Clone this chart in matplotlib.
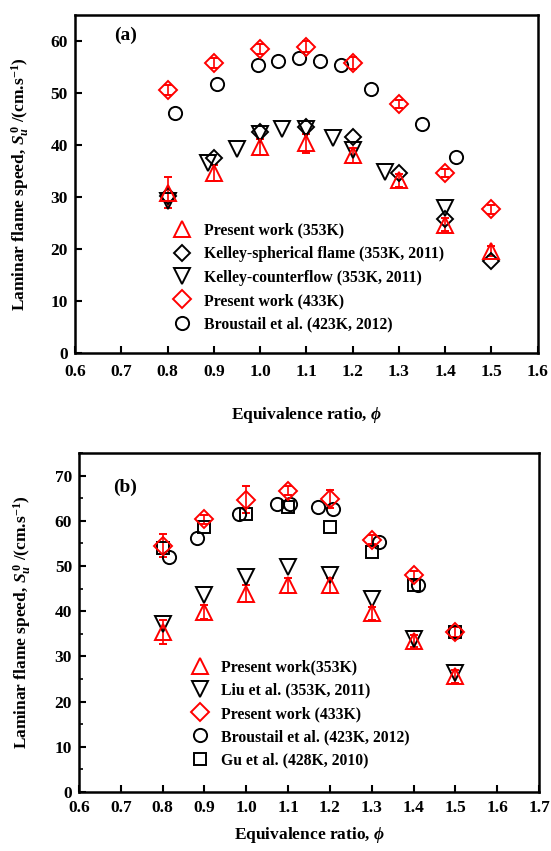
import matplotlib
matplotlib.use("Agg")
import matplotlib.pyplot as plt
from matplotlib.ticker import MultipleLocator

plt.rcParams['font.family'] = ['Liberation Serif', 'DejaVu Serif']
plt.rcParams['font.weight'] = 'bold'
plt.rcParams['mathtext.fontset'] = 'custom'
plt.rcParams['mathtext.rm'] = 'Liberation Serif:bold'
plt.rcParams['mathtext.it'] = 'Liberation Serif:italic:bold'
plt.rcParams['mathtext.bf'] = 'Liberation Serif:bold'

RED = '#ff0000'
BLK = '#000000'

# ---------------- Panel (a) data ----------------
a_pw353_x = [0.8, 0.9, 1.0, 1.1, 1.2, 1.3, 1.4, 1.5]
a_pw353_y = [30.8, 34.6, 39.6, 40.3, 38.0, 33.2, 24.7, 19.6]
a_pw353_e = [3.0, 1.5, 1.6, 1.8, 1.5, 1.3, 1.2, 1.0]

a_ksph_x = [0.8, 0.9, 1.0, 1.1, 1.2, 1.3, 1.4, 1.5]
a_ksph_y = [30.2, 37.5, 42.5, 43.5, 41.5, 34.6, 25.8, 17.7]

a_kcf_x = [0.8, 0.887, 0.95, 1.0, 1.047, 1.1, 1.157, 1.2, 1.27, 1.4]
a_kcf_y = [29.3, 36.5, 39.2, 42.1, 43.0, 43.1, 41.3, 39.0, 34.8, 27.8]

a_pw433_x = [0.8, 0.9, 1.0, 1.1, 1.2, 1.3, 1.4, 1.5]
a_pw433_y = [50.6, 55.8, 58.5, 58.9, 55.8, 47.9, 34.6, 27.6]
a_pw433_e = [1.0, 1.0, 1.0, 1.0, 1.2, 0.8, 0.8, 0.8]

a_brou_x = [0.816, 0.907, 0.995, 1.038, 1.084, 1.13, 1.175, 1.24, 1.35, 1.423]
a_brou_y = [46.2, 51.7, 55.3, 56.2, 56.8, 56.2, 55.3, 50.7, 44.0, 37.7]

# ---------------- Panel (b) data ----------------
b_pw353_x = [0.8, 0.9, 1.0, 1.1, 1.2, 1.3, 1.4, 1.5]
b_pw353_y = [35.4, 39.8, 43.9, 45.7, 45.7, 39.5, 33.4, 25.6]
b_pw353_e = [2.6, 1.5, 1.8, 1.6, 1.6, 1.4, 1.4, 1.4]

b_liu_x = [0.8, 0.9, 1.0, 1.1, 1.2, 1.3, 1.4, 1.5]
b_liu_y = [37.1, 43.5, 47.5, 49.7, 47.9, 42.8, 33.8, 26.3]

b_pw433_x = [0.8, 0.9, 1.0, 1.1, 1.2, 1.3, 1.4, 1.5]
b_pw433_y = [54.5, 60.3, 64.7, 66.7, 64.9, 55.8, 47.9, 35.4]
b_pw433_e = [2.5, 1.0, 3.0, 1.0, 2.0, 1.0, 1.0, 1.0]

b_brou_x = [0.815, 0.882, 0.983, 1.074, 1.105, 1.172, 1.208, 1.318, 1.411, 1.5]
b_brou_y = [51.9, 56.3, 61.6, 63.8, 63.8, 63.1, 62.5, 55.2, 45.7, 35.5]

b_gu_x = [0.8, 0.9, 1.0, 1.1, 1.2, 1.3, 1.4, 1.5]
b_gu_y = [53.9, 58.7, 61.6, 63.1, 58.7, 53.2, 45.7, 35.3]

fig = plt.figure(figsize=(5.51, 8.51), dpi=100)
ax1 = fig.add_axes([0.136, 0.5852, 0.840, 0.3972])
ax2 = fig.add_axes([0.1434, 0.0693, 0.835, 0.3984])

mk = dict(linestyle='none', markerfacecolor='none', markeredgewidth=1.4)
eb = dict(elinewidth=1.2, capsize=3, capthick=1.2)

ylab = r'Laminar flame speed, $S_u^{\,0}$ /(cm.s$^{\mathregular{-1}}$)'
xlab = r'Equivalence ratio, $\phi$'

# Panel (a)
hA = []
e = ax1.errorbar(a_pw353_x, a_pw353_y, yerr=a_pw353_e, marker='^', color=RED, ms=11, **mk, **eb)
hA.append((e[0], 'Present work (353K)'))
l, = ax1.plot(a_ksph_x, a_ksph_y, marker='D', color=BLK, ms=8.5, **mk)
hA.append((l, 'Kelley-spherical flame (353K, 2011)'))
l, = ax1.plot(a_kcf_x, a_kcf_y, marker='v', color=BLK, ms=11, **mk)
hA.append((l, 'Kelley-counterflow (353K, 2011)'))
e = ax1.errorbar(a_pw433_x, a_pw433_y, yerr=a_pw433_e, marker='D', color=RED, ms=9, **mk, **eb)
hA.append((e[0], 'Present work (433K)'))
l, = ax1.plot(a_brou_x, a_brou_y, marker='o', color=BLK, ms=9.5, **mk)
hA.append((l, 'Broustail et al. (423K, 2012)'))

ax1.set_xlim(0.6, 1.6)
ax1.set_ylim(0, 65)
ax1.xaxis.set_major_locator(MultipleLocator(0.1))
ax1.yaxis.set_major_locator(MultipleLocator(10))
ax1.text(0.085, 0.94, '(a)', transform=ax1.transAxes, fontsize=14, fontweight='bold',
         va='center', ha='left')

# Panel (b)
hB = []
e = ax2.errorbar(b_pw353_x, b_pw353_y, yerr=b_pw353_e, marker='^', color=RED, ms=11, **mk, **eb)
hB.append((e[0], 'Present work(353K)'))
l, = ax2.plot(b_liu_x, b_liu_y, marker='v', color=BLK, ms=11, **mk)
hB.append((l, 'Liu et al. (353K, 2011)'))
e = ax2.errorbar(b_pw433_x, b_pw433_y, yerr=b_pw433_e, marker='D', color=RED, ms=9, **mk, **eb)
hB.append((e[0], 'Present work (433K)'))
l, = ax2.plot(b_brou_x, b_brou_y, marker='o', color=BLK, ms=9.5, **mk)
hB.append((l, 'Broustail et al. (423K, 2012)'))
l, = ax2.plot(b_gu_x, b_gu_y, marker='s', color=BLK, ms=8.5, **mk)
hB.append((l, 'Gu et al. (428K, 2010)'))

ax2.set_xlim(0.6, 1.7)
ax2.set_ylim(0, 75)
ax2.xaxis.set_major_locator(MultipleLocator(0.1))
ax2.yaxis.set_major_locator(MultipleLocator(10))
ax2.yaxis.set_minor_locator(MultipleLocator(5))
ax2.text(0.075, 0.9, '(b)', transform=ax2.transAxes, fontsize=14, fontweight='bold',
         va='center', ha='left')

for ax in (ax1, ax2):
    for s in ax.spines.values():
        s.set_linewidth(1.8)
    ax.tick_params(which='major', direction='in', length=5, width=1.5,
                   labelsize=12.5, pad=5)
    ax.tick_params(which='minor', direction='in', length=3, width=1.2)
    ax.tick_params(top=False, right=False)
    ax.xaxis.set_major_formatter(matplotlib.ticker.FormatStrFormatter('%.1f'))
    for lab in ax.get_xticklabels() + ax.get_yticklabels():
        lab.set_fontweight('bold')
    ax.set_ylabel(ylab, fontsize=12.5, fontweight='bold', labelpad=4)

ax1.tick_params(axis='x', which='major', pad=8)
ax2.tick_params(axis='x', which='major', pad=6)
ax1.set_xlabel(xlab, fontsize=12.5, fontweight='bold', labelpad=18)
ax2.set_xlabel(xlab, fontsize=12.5, fontweight='bold', labelpad=6)

ax1.legend([h for h, _ in hA], [t for _, t in hA], loc='upper left',
           bbox_to_anchor=(0.21, 0.385), frameon=False,
           prop={'weight': 'bold', 'size': 11.3}, handletextpad=0.7,
           labelspacing=0.47, borderaxespad=0, borderpad=0, handlelength=1.3)

ax2.legend([h for h, _ in hB], [t for _, t in hB], loc='upper left',
           bbox_to_anchor=(0.241, 0.39), frameon=False,
           prop={'weight': 'bold', 'size': 11.3}, handletextpad=0.7,
           labelspacing=0.45, borderaxespad=0, borderpad=0, handlelength=1.3)

ax1.yaxis.set_label_coords(-0.095, 0.5)
ax2.yaxis.set_label_coords(-0.1, 0.5)

fig.savefig('out.png', dpi=100)
